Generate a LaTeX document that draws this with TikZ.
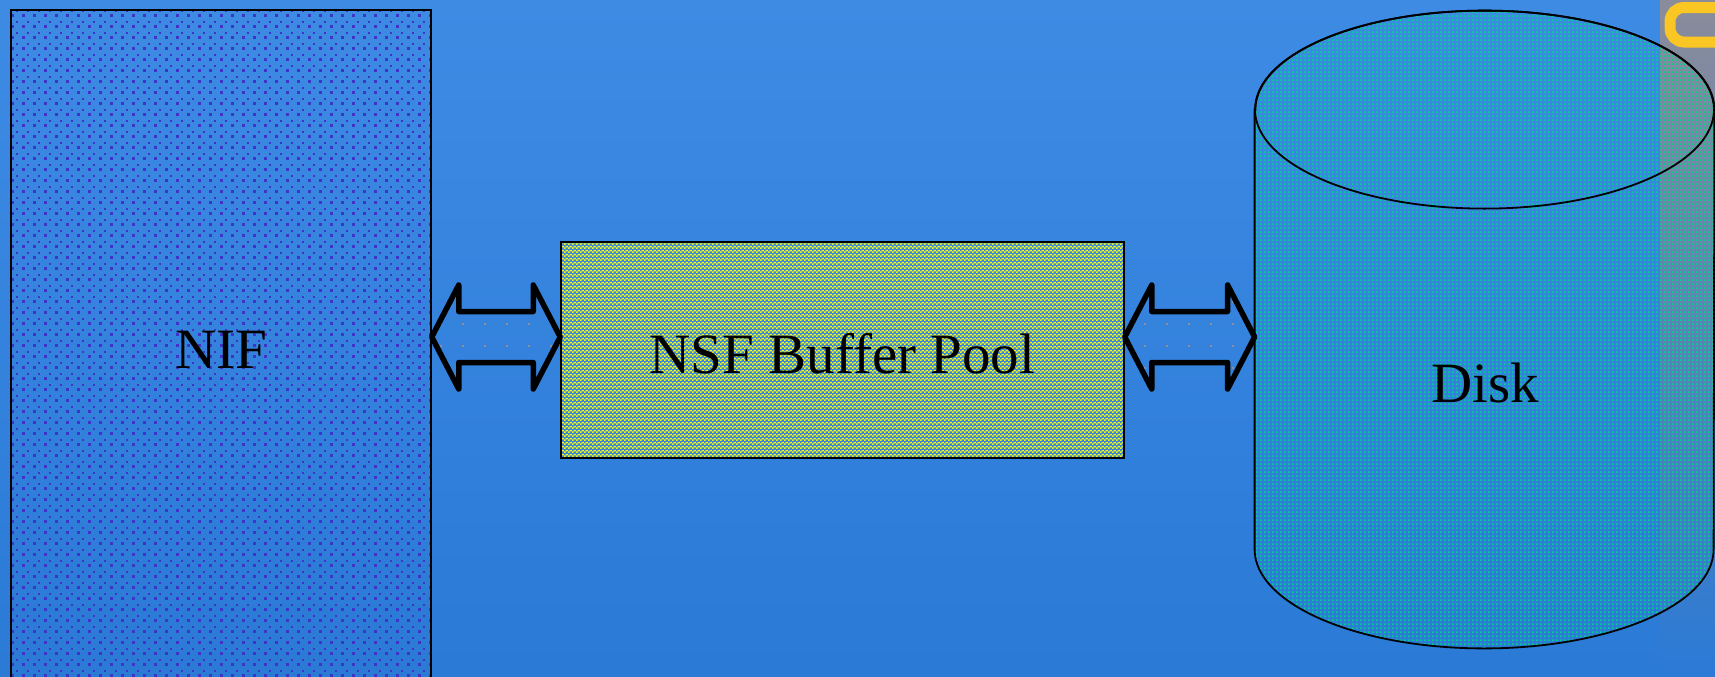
\documentclass[tikz,border=0pt]{standalone}
\usepackage{fontspec}
\setmainfont{Liberation Serif}
\usetikzlibrary{calc,patterns}

\definecolor{slidetop}{RGB}{62,139,228}
\definecolor{slidebot}{RGB}{42,122,214}
\definecolor{stripgrey}{RGB}{138,140,154}
\definecolor{stripmid}{RGB}{112,130,172}
\definecolor{logoorange}{RGB}{250,198,36}
\definecolor{nifdot}{RGB}{62,52,200}
\definecolor{pooldot}{RGB}{255,255,0}
\definecolor{diskdot}{RGB}{0,214,136}
\definecolor{arrowdot}{RGB}{150,140,150}

% Fill patterns
\pgfdeclarepatterninherentlycolored{nifdots}
  {\pgfpointorigin}{\pgfpoint{5.5pt}{5.5pt}}{\pgfpoint{5.5pt}{5.5pt}}
  {\pgfsetfillcolor{nifdot}
   \pgfpathrectangle{\pgfpointorigin}{\pgfpoint{1.5pt}{1.5pt}}
   \pgfpathrectangle{\pgfpoint{2.75pt}{2.75pt}}{\pgfpoint{1pt}{1pt}}
   \pgfusepath{fill}}
\pgfdeclarepatterninherentlycolored{pooldots}
  {\pgfpointorigin}{\pgfpoint{2pt}{2pt}}{\pgfpoint{2pt}{2pt}}
  {\pgfsetfillcolor{pooldot}
   \pgfpathrectangle{\pgfpointorigin}{\pgfpoint{1pt}{1pt}}
   \pgfpathrectangle{\pgfpoint{1pt}{1pt}}{\pgfpoint{1pt}{1pt}}
   \pgfusepath{fill}}
\pgfdeclarepatterninherentlycolored{diskdots}
  {\pgfpointorigin}{\pgfpoint{2pt}{2pt}}{\pgfpoint{2pt}{2pt}}
  {\pgfsetfillcolor{diskdot}
   \pgfpathrectangle{\pgfpointorigin}{\pgfpoint{1pt}{1pt}}
   \pgfusepath{fill}}
\pgfdeclarepatterninherentlycolored{arrowdots}
  {\pgfpointorigin}{\pgfpoint{11pt}{11pt}}{\pgfpoint{11pt}{11pt}}
  {\pgfsetfillcolor{arrowdot}
   \pgfpathrectangle{\pgfpointorigin}{\pgfpoint{1pt}{1pt}}
   \pgfusepath{fill}}

\begin{document}
\begin{tikzpicture}[
    x=0.5pt, y=-0.5pt,
    font=\fontsize{28.5}{34}\selectfont,
    box/.style={rectangle, draw=black, line width=0.75pt, inner sep=0pt},
    nifbox/.style={box, pattern=nifdots, minimum width=210pt, minimum height=340pt},
    poolbox/.style={box, pattern=pooldots, minimum width=281.5pt, minimum height=108pt},
    diskbody/.style={rectangle, inner sep=0pt, minimum width=229.5pt, minimum height=318.5pt},
    diskfill/.style={draw=black, line width=0.9pt, pattern=diskdots},
    fatarrow/.style={draw=black, line width=2.75pt, line join=round, pattern=arrowdots}
]

% Slide background
\useasboundingbox (0,0) rectangle (1715,676);
\clip (0,0) rectangle (1715,676);
\shade[top color=slidetop, bottom color=slidebot] (0,0) rectangle (1715,676);
\shade[top color=stripgrey, middle color=stripmid, bottom color=slidebot] (1660,0) rectangle (1715,676);
\draw[logoorange, line width=5.5pt, rounded corners=7pt] (1720,7.5) -- (1670,7.5) -- (1670,42) -- (1720,42);

% Boxes
\node[nifbox] (nif) at (221,350) {NIF};
\node[poolbox] (pool) at (842.5,350) {};
\node (pooltext) at (842.5,354) {NSF Buffer Pool};
\node[diskbody] (disk) at (1484.5,329.5) {};

% Disk cylinder
\path[diskfill] ($(disk.north west)+(0,99)$) -- ($(disk.south west)+(0,-99)$)
    arc[start angle=180, end angle=0, x radius=229.5, y radius=99]
    -- ($(disk.north east)+(0,99)$)
    arc[start angle=0, end angle=-180, x radius=229.5, y radius=99] -- cycle;
\draw[line width=0.9pt] ($(disk.north)+(0,99)$) ellipse [x radius=229.5, y radius=99];
\node (disklabel) at (1485,383) {Disk};

% Arrows
\coordinate (mid) at (0,337);
\draw[fatarrow] (nif.east |- mid) -- ++(27,-52) -- ++(0,26.5)
    -- ($(pool.west |- mid)+(-27,-25.5)$) -- ++(0,-26.5) -- (pool.west |- mid)
    -- ++(-27,52) -- ++(0,-26.5) -- ($(nif.east |- mid)+(27,25.5)$) -- ++(0,26.5) -- cycle;
\draw[fatarrow] (pool.east |- mid) -- ++(27,-52) -- ++(0,26.5)
    -- ($(disk.west |- mid)+(-27,-25.5)$) -- ++(0,-26.5) -- (disk.west |- mid)
    -- ++(-27,52) -- ++(0,-26.5) -- ($(pool.east |- mid)+(27,25.5)$) -- ++(0,26.5) -- cycle;

\end{tikzpicture}
\end{document}
